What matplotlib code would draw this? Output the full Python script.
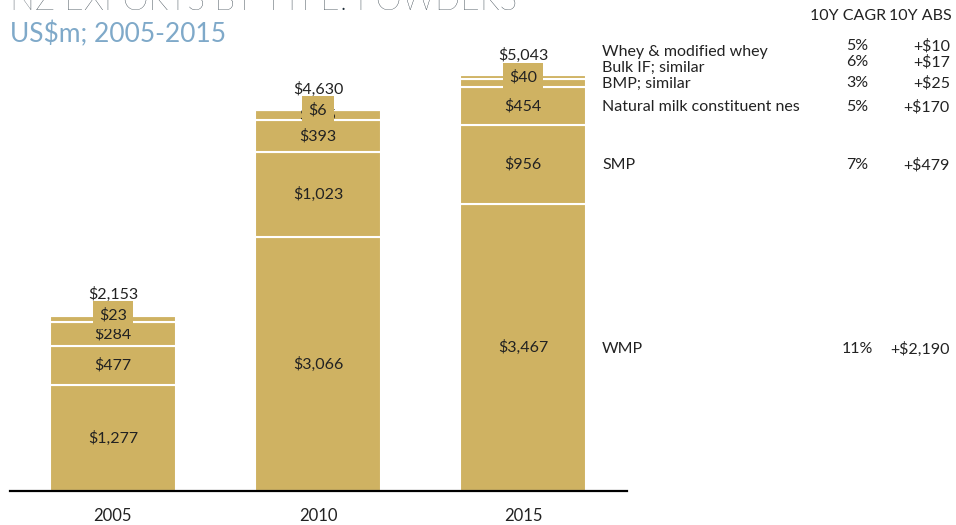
import numpy as np
import matplotlib
matplotlib.use('Agg')
from matplotlib import pyplot as plt

plt.rcParams['font.family'] = ['Lato', 'DejaVu Sans']

years = ['2005', '2010', '2015']
# stack order, bottom to top
products = ['WMP', 'SMP', 'Natural milk constituent nes',
            'BMP; similar', 'Bulk IF; similar', 'Whey & modified whey']
wmp = [1277, 3066, 3467]
smp = [477, 1023, 956]
nmc = [284, 393, 454]
bmp = [77, 115, 102]
bulk_if = [23, 6, 40]
whey = [15, 27, 25]
totals = [2153, 4630, 5043]
cagr = ['11%', '7%', '5%', '3%', '6%', '5%']
abs_change = ['+$2,190', '+$479', '+$170', '+$25', '+$17', '+$10']

W, H = 956, 525
gold = '#CFB262'
txt = '#222222'
fs = 11.5

fig = plt.figure(figsize=(W / 100, H / 100), dpi=100)
ax = fig.add_axes([10 / W, 34 / H, 617 / W, 491 / H])

series = [wmp, smp, nmc, bmp, bulk_if, whey]
x = np.arange(len(years))
bottom = np.zeros(len(years))
mids = []
for vals in series:
    vals = np.array(vals, dtype=float)
    ax.bar(x, vals, 0.615, bottom=bottom, color=gold, edgecolor='white',
           linewidth=1.5, zorder=2)
    mids.append(bottom + vals / 2)
    bottom = bottom + vals

# segment labels (WMP .. BMP), BMP mostly hidden under the boxed label
for k in range(4):
    for i in range(len(years)):
        ax.text(x[i], mids[k][i], '${:,}'.format(series[k][i]), ha='center',
                va='center', fontsize=fs, color=txt, zorder=3)
# Bulk IF labels in a gold box
for i in range(len(years)):
    ax.text(x[i], mids[4][i], '${:,}'.format(bulk_if[i]), ha='center',
            va='center', fontsize=fs, color=txt, zorder=4,
            bbox=dict(boxstyle='square,pad=0.4', fc=gold, ec='none'))
# totals
for i in range(len(years)):
    ax.annotate('${:,}'.format(totals[i]), (x[i], totals[i]),
                xytext=(0, 13), textcoords='offset points',
                ha='center', va='center', fontsize=fs, color=txt)

ax.set_xlim(-0.502, 2.507)
ax.set_ylim(0, 491 / 0.0828)
ax.set_xticks(x)
ax.set_xticklabels(years, fontsize=12, color=txt)
ax.tick_params(axis='x', length=0, pad=12)
ax.set_yticks([])
for s in ['left', 'right', 'top']:
    ax.spines[s].set_visible(False)
ax.spines['bottom'].set_linewidth(1.6)
ax.spines['bottom'].set_color('black')
ax.patch.set_alpha(0)

# title (cut off at top) and subtitle
fig.text(10 / W, 1 - 10 / H, 'NZ EXPORTS BY TYPE: POWDERS', fontsize=24,
         color='#1f2d38', fontweight='light', ha='left', va='baseline')
fig.text(10 / W, 1 - 34 / H, 'US$m; 2005-2015', fontsize=19,
         color='#7FA9C9', ha='left', va='center')

# right-hand table
fig.text(848 / W, 1 - 16 / H, '10Y CAGR', fontsize=fs, color=txt,
         ha='center', va='center')
fig.text(952 / W, 1 - 16 / H, '10Y ABS', fontsize=fs, color=txt,
         ha='right', va='center')
name_y = [349, 165, 107, 84, 68, 52]
val_y = [349, 165, 107, 83, 62, 46]
for k in range(len(products)):
    fig.text(602 / W, 1 - name_y[k] / H, products[k], fontsize=fs,
             color=txt, ha='left', va='center')
    fig.text(857 / W, 1 - val_y[k] / H, cagr[k], fontsize=fs,
             color=txt, ha='center', va='center')
    fig.text(950 / W, 1 - val_y[k] / H, abs_change[k], fontsize=fs,
             color=txt, ha='right', va='center')

fig.savefig('out.png', dpi=100)
